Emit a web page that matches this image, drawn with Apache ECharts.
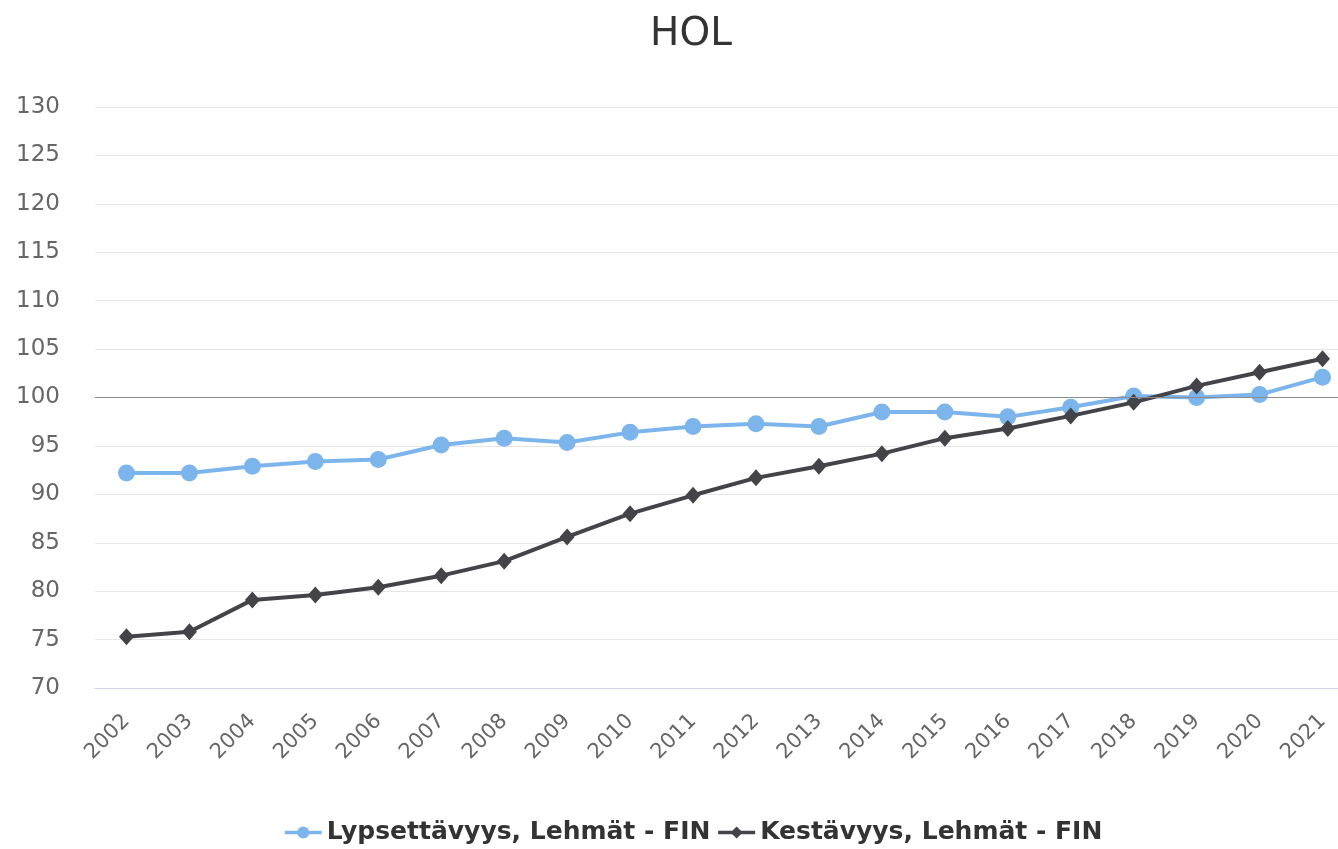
<!DOCTYPE html>
<html>
<head>
<meta charset="utf-8">
<script src="https://cdn.jsdelivr.net/npm/echarts@6/dist/echarts.min.js"></script>
<style>
  html, body { margin: 0; padding: 0; background: #fff; }
  #chart { width: 1338px; height: 849px; }
</style>
</head>
<body>
<div id="chart"></div>
<script>
// Years on the category axis
const years = ['2002', '2003', '2004', '2005', '2006', '2007', '2008', '2009', '2010', '2011',
               '2012', '2013', '2014', '2015', '2016', '2017', '2018', '2019', '2020', '2021'];

// Breeding index values for Holstein cows (FIN)
const lypsettavyys = [92.2, 92.2, 92.9, 93.4, 93.6, 95.1, 95.8, 95.35, 96.4, 97.0,
                      97.3, 97.0, 98.5, 98.5, 98.0, 99.0, 100.15, 100.0, 100.3, 102.1];
const kestavyys = [75.3, 75.8, 79.1, 79.6, 80.4, 81.6, 83.1, 85.6, 88.0, 89.9,
                   91.7, 92.9, 94.2, 95.8, 96.8, 98.1, 99.5, 101.2, 102.6, 104.0];

const seriesNames = ['Lypsettävyys, Lehmät - FIN', 'Kestävyys, Lehmät - FIN'];
const yTicks = { min: 70, max: 130, step: 5 };

const chart = echarts.init(document.getElementById('chart'), null, { renderer: 'canvas' });
const fontFamily = '"DejaVu Sans", sans-serif';

chart.setOption({
  animation: false,
  backgroundColor: '#ffffff',
  title: {
    text: 'HOL',
    left: 686,
    top: 10,
    textAlign: 'center',
    textStyle: { fontFamily, fontSize: 39, fontWeight: 'normal', color: '#333333' }
  },
  legend: {
    left: 278,
    top: 815,
    itemWidth: 37,
    itemHeight: 15,
    itemGap: 6,
    lineStyle: { width: 3.5 },
    textStyle: { fontFamily, fontSize: 25, fontWeight: 'bold', color: '#333333' },
    data: seriesNames
  },
  // the plot runs a little past the right edge of the canvas
  grid: { left: 95, top: 107, width: 1259, height: 581, containLabel: false, outerBoundsMode: 'none' },
  xAxis: {
    type: 'category',
    data: years,
    boundaryGap: true,
    axisLine: { show: true, lineStyle: { color: '#ccd6eb', width: 1 } },
    axisTick: { show: false },
    axisLabel: { rotate: 45, margin: 30, fontFamily, fontSize: 21, color: '#666666' }
  },
  yAxis: {
    type: 'value',
    min: yTicks.min,
    max: yTicks.max,
    interval: yTicks.step,
    axisLine: { show: false },
    axisTick: { show: false },
    splitLine: { lineStyle: { color: '#e6e6e6', width: 1 } },
    axisLabel: { margin: 35, fontFamily, fontSize: 23, color: '#666666' }
  },
  series: [
    {
      name: seriesNames[0],
      type: 'line',
      data: lypsettavyys,
      symbol: 'circle',
      symbolSize: 17,
      color: '#7cb5ec',
      lineStyle: { width: 4 },
      z: 3,
      markLine: {
        silent: true,
        symbol: 'none',
        label: { show: false },
        lineStyle: { color: '#8c8c8c', width: 1, type: 'solid' },
        data: [{ yAxis: 100 }]
      }
    },
    {
      name: seriesNames[1],
      type: 'line',
      data: kestavyys,
      symbol: 'diamond',
      symbolSize: [15, 17],
      color: '#434348',
      lineStyle: { width: 4 },
      z: 4
    }
  ]
});
</script>
</body>
</html>
